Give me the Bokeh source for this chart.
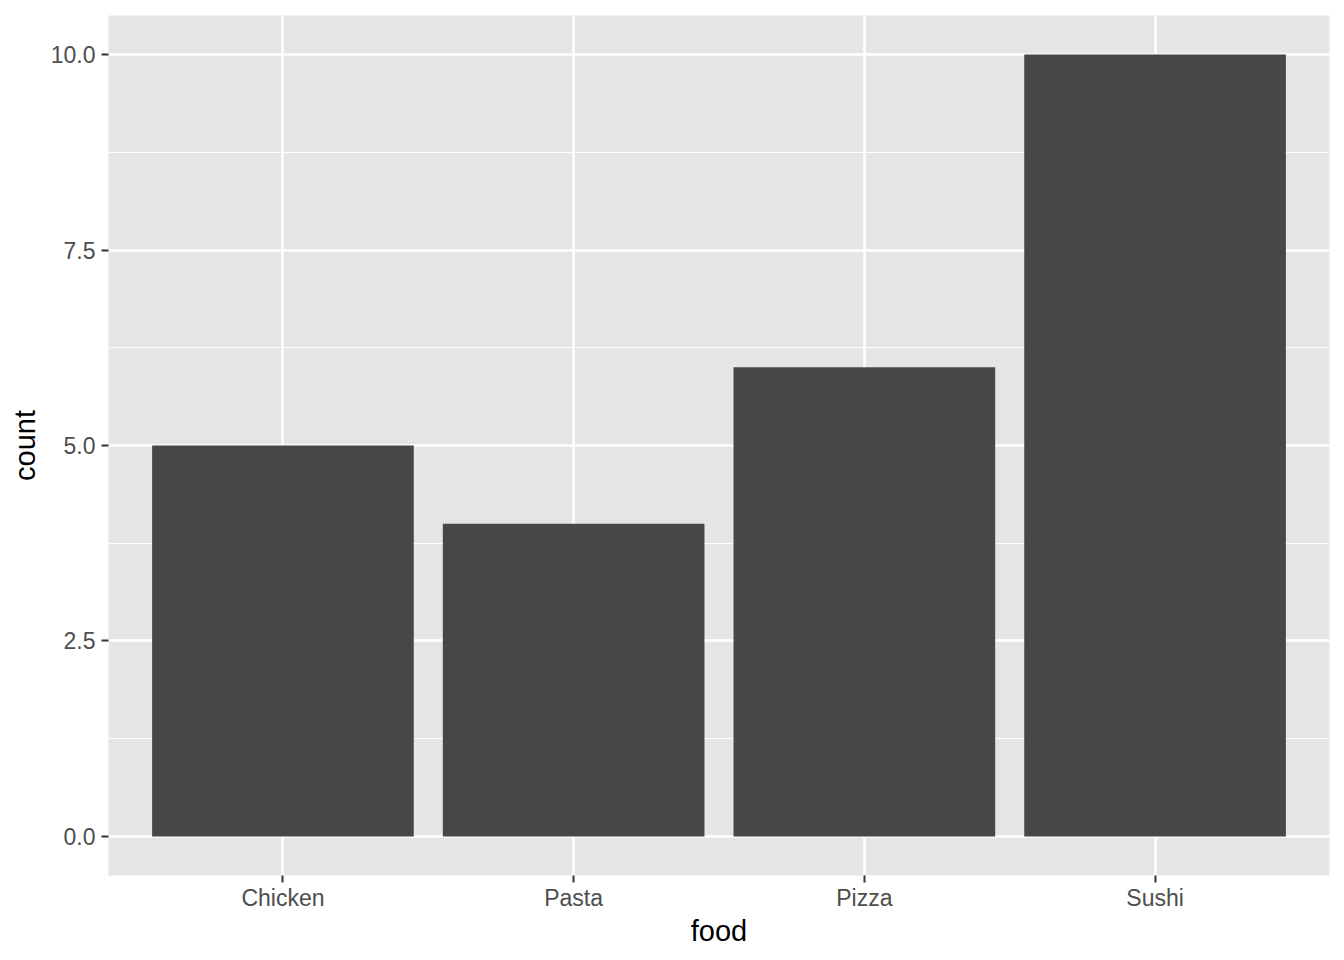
from bokeh.plotting import figure
from bokeh.models import Range1d, FactorRange, FixedTicker, ColumnDataSource
from bokeh.embed import file_html
from bokeh.resources import INLINE

foods = ["Chicken", "Pasta", "Pizza", "Sushi"]
counts = [5, 4, 6, 10]
y_ticks = [0, 2.5, 5, 7.5, 10]
y_minor = [1.25, 3.75, 6.25, 8.75]
y_labels = {0: "0.0", 2.5: "2.5", 5: "5.0", 7.5: "7.5", 10: "10.0"}

FONT = "Liberation Sans"

src = ColumnDataSource(dict(food=foods, count=counts))

p = figure(width=1344, height=960, output_backend="svg", toolbar_location=None,
           x_range=FactorRange(factors=foods, range_padding=0.1, range_padding_units="absolute"),
           y_range=Range1d(-0.5, 10.5),
           min_border_left=108, min_border_right=15, min_border_top=15, min_border_bottom=85)

p.vbar(x="food", top="count", bottom=0, width=0.9, source=src,
       fill_color="#474747", line_color=None)

p.background_fill_color = "#E5E5E5"
p.border_fill_color = "white"
p.outline_line_color = None

p.yaxis.ticker = FixedTicker(ticks=y_ticks, minor_ticks=y_minor)
p.yaxis.major_label_overrides = y_labels

for ax in (p.xaxis[0], p.yaxis[0]):
    ax.axis_line_color = None
    ax.major_tick_line_color = "#333333"
    ax.major_tick_line_width = 2
    ax.major_tick_out = 7
    ax.major_tick_in = 0
    ax.minor_tick_out = 0
    ax.minor_tick_in = 0
    ax.major_label_text_font = FONT
    ax.major_label_text_font_size = "23px"
    ax.major_label_text_color = "#4D4D4D"
    ax.axis_label_text_font = FONT
    ax.axis_label_text_font_size = "29px"
    ax.axis_label_text_font_style = "normal"
    ax.axis_label_text_color = "black"

p.xaxis.axis_label = "food"
p.yaxis.axis_label = "count"
p.xaxis.major_label_standoff = 2
p.xaxis.axis_label_standoff = 1
p.yaxis.major_label_standoff = 6
p.yaxis.axis_label_standoff = 7

p.xgrid.grid_line_color = "white"
p.xgrid.grid_line_width = 2.5
p.ygrid.grid_line_color = "white"
p.ygrid.grid_line_width = 2.5
p.ygrid.minor_grid_line_color = "white"
p.ygrid.minor_grid_line_width = 1.2

open("out.html", "w").write(file_html(p, INLINE))
